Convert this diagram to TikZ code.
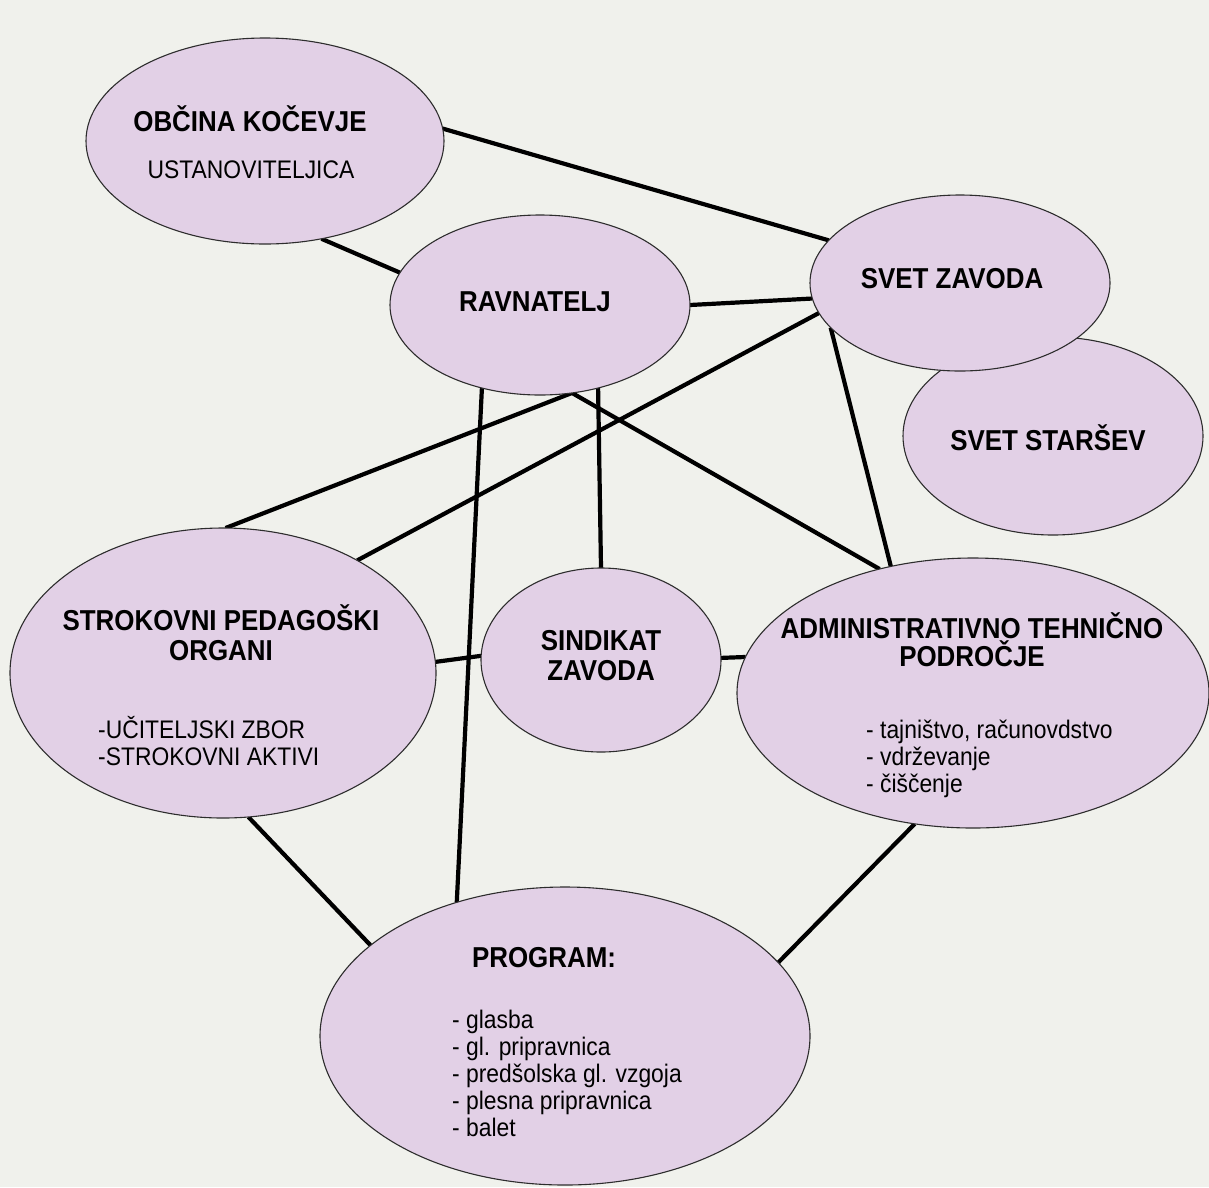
\documentclass[tikz,border=0pt]{standalone}
\usepackage{fontspec}
\setmainfont[FakeStretch=0.9]{Liberation Sans}
\usetikzlibrary{shapes.geometric}
\pgfdeclarelayer{bg}
\pgfsetlayers{bg,main}
\definecolor{bgc}{RGB}{240,241,236}
\definecolor{elfill}{RGB}{226,208,230}
\definecolor{elline}{RGB}{45,45,45}
\begin{document}
\begin{tikzpicture}[x=1pt,y=-1pt,
  el/.style={ellipse, draw=elline, line width=1.1pt, fill=elfill, inner sep=0pt, outer sep=0pt},
  conn/.style={line width=4.2pt, draw=black},
  ttl/.style={inner sep=0pt, font=\fontsize{28.8}{30}\selectfont\bfseries},
  lst/.style={inner sep=0pt, font=\fontsize{25.4}{27}\selectfont}]
\begin{pgfonlayer}{bg}
\fill[bgc] (0,0) rectangle (1209,1187);
\end{pgfonlayer}
\useasboundingbox (0,0) rectangle (1209,1187);

% ellipses
\node[el, minimum width=358pt, minimum height=206pt] (ob) at (265,141) {};
\node[el, minimum width=300pt, minimum height=180pt] (rav) at (540,305) {};
\node[el, minimum width=300pt, minimum height=198pt] (ss) at (1053,436) {};
\node[el, minimum width=300pt, minimum height=176pt] (sz) at (960,283) {};
\node[el, minimum width=426pt, minimum height=290pt] (str) at (223,673) {};
\node[el, minimum width=240pt, minimum height=184pt] (sin) at (601,660) {};
\node[el, minimum width=472pt, minimum height=270pt] (adm) at (973,693) {};
\node[el, minimum width=490pt, minimum height=298pt] (prog) at (565,1036) {};

% texts
\node[ttl, anchor=base] (tob) at (250,131) {OBČINA KOČEVJE};
\node[lst, anchor=base] (tob2) at (251,178) {USTANOVITELJICA};
\node[ttl, anchor=base] (trav) at (535,311) {RAVNATELJ};
\node[ttl, anchor=base] (tsz) at (952,288) {SVET ZAVODA};
\node[ttl, anchor=base] (tss) at (1048,450) {SVET STARŠEV};
\node[ttl, anchor=base] (tstr) at (221,630)
  {\begin{tabular}[t]{@{}c@{}}STROKOVNI PEDAGOŠKI\\ORGANI\end{tabular}};
\node[lst, anchor=base west] (tstr2) at (98,738)
  {\begin{tabular}[t]{@{}l@{}}-UČITELJSKI ZBOR\\-STROKOVNI AKTIVI\end{tabular}};
\node[ttl, anchor=base] (tsin) at (601,650)
  {\begin{tabular}[t]{@{}c@{}}SINDIKAT\\ZAVODA\end{tabular}};
\node[inner sep=0pt, font=\fontsize{28.8}{28}\selectfont\bfseries, anchor=base] (tadm) at (972,638)
  {\begin{tabular}[t]{@{}c@{}}ADMINISTRATIVNO TEHNIČNO\\\smash{PODROČJE}\end{tabular}};
\node[lst, anchor=base west] (tadm2) at (866,738)
  {\begin{tabular}[t]{@{}l@{}}- tajništvo, računovdstvo\\- vdrževanje\\- čiščenje\end{tabular}};
\node[ttl, anchor=base] (tprog) at (544,967) {PROGRAM:};
\node[lst, anchor=base west] (tprog2) at (452,1028)
  {\begin{tabular}[t]{@{}l@{}}- glasba\\- gl. pripravnica\\- predšolska gl. vzgoja\\- plesna pripravnica\\- balet\end{tabular}};

% connectors
\begin{pgfonlayer}{bg}
\draw[conn] (ob.4) -- (sz.162);
\draw[conn] (ob.-60) -- (rav.167);
\draw[conn] (rav.0) -- (sz.-174);
\draw[conn] (rav.-70) -- (str.89);
\draw[conn] (sz.-168) -- (str.40);
\draw[conn] (rav.-55) -- (sin.90);
\draw[conn] (rav.-125) -- (prog.129);
\draw[conn] (rav.-70) -- (adm.127);
\draw[conn] (sz.-161) -- (adm.123);
\draw[conn] (str.3) -- (sin.178);
\draw[conn] (sin.1) -- (adm.171);
\draw[conn] (str.-80) -- (prog.155);
\draw[conn] (adm.-114) -- (prog.19);
\end{pgfonlayer}
\end{tikzpicture}
\end{document}
